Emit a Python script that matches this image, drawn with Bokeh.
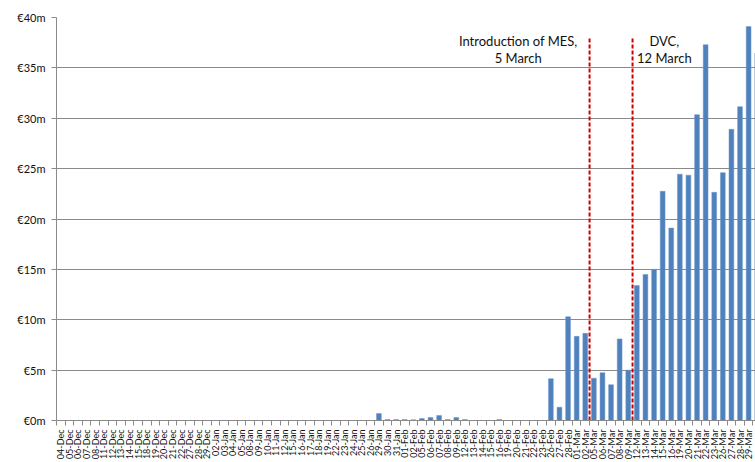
import numpy as np
from bokeh.plotting import figure
from bokeh.models import Range1d, FixedTicker, PrintfTickFormatter, Label
from bokeh.embed import file_html
from bokeh.resources import INLINE

# ---- data -------------------------------------------------------------
dec_days = ["04", "05", "06", "07", "08", "11", "12", "13", "14", "15",
            "18", "19", "20", "21", "22", "27", "28", "29"]
jan_days = ["02", "03", "04", "05", "08", "09", "10", "11", "12", "15", "16",
            "17", "18", "19", "22", "23", "24", "25", "26", "29", "30", "31"]
feb_days = ["01", "02", "05", "06", "07", "08", "09", "12", "13", "14",
            "15", "16", "19", "20", "21", "22", "23", "26", "27", "28"]
mar_days = ["01", "02", "05", "06", "07", "08", "09", "12", "13", "14", "15",
            "16", "19", "20", "21", "22", "23", "26", "27", "28", "29"]
apr_days = ["03"]

dates = ([d + "-Dec" for d in dec_days] + [d + "-Jan" for d in jan_days] +
         [d + "-Feb" for d in feb_days] + [d + "-Mar" for d in mar_days] +
         [d + "-Apr" for d in apr_days])

# daily value, EUR millions
dec_values = [0] * 18
jan_values = [0] * 19 + [0.7, 0.1, 0.1]
feb_values = [0.1, 0.07, 0.2, 0.3, 0.5, 0.1, 0.3, 0.1, 0, 0,
              0, 0.1, 0, 0, 0, 0, 0, 4.15, 1.32, 10.3]
mar_values = [8.35, 8.65, 4.2, 4.75, 3.55, 8.1, 5.0, 13.4, 14.5, 15.0, 22.75,
              19.1, 24.45, 24.35, 30.35, 37.3, 22.65, 24.6, 28.9, 31.15, 39.1]
apr_values = [36.45]
values_m = dec_values + jan_values + feb_values + mar_values + apr_values

y_ticks = [0, 5, 10, 15, 20, 25, 30, 35, 40]

events = ["05-Mar", "12-Mar"]
event_texts = [["Introduction of MES,", "5 March"], ["DVC,", "12 March"]]

# ---- figure -----------------------------------------------------------
FONT = "Lato"
GRID = "#8a8a8a"

x = np.arange(len(dates))
p = figure(width=755, height=462, output_backend="svg", toolbar_location=None,
           x_range=Range1d(-0.5, 80.8), y_range=Range1d(0, 40),
           min_border_left=56, min_border_top=17, min_border_right=0,
           min_border_bottom=0, background_fill_color="white",
           border_fill_color="white")
p.outline_line_color = None

p.vbar(x=x, top=values_m, width=0.56, fill_color="#4F81BD",
       line_color="#6E98CB", line_width=0.5)

# x axis: labels at category centres, tick marks between categories
xt = FixedTicker(ticks=list(x.astype(float)),
                 minor_ticks=list((np.arange(len(dates) + 1) - 0.5).astype(float)))
p.xaxis.ticker = xt
p.xaxis.major_label_overrides = {float(i): d for i, d in enumerate(dates)}
p.xaxis.major_label_orientation = np.pi / 2
p.xaxis.major_label_text_font = FONT
p.xaxis.major_label_text_font_size = "9px"
p.xaxis.major_label_text_color = "#111111"
p.xaxis.major_label_standoff = 3
p.xaxis.major_tick_line_color = None
p.xaxis.minor_tick_line_color = GRID
p.xaxis.minor_tick_in = 0
p.xaxis.minor_tick_out = 5
p.xaxis.axis_line_color = GRID
p.xgrid.grid_line_color = None

# y axis
p.yaxis.ticker = FixedTicker(ticks=y_ticks)
p.yaxis.formatter = PrintfTickFormatter(format="€%dm")
p.yaxis.major_label_text_font = FONT
p.yaxis.major_label_text_font_size = "11px"
p.yaxis.major_label_text_color = "#111111"
p.yaxis.major_tick_in = 0
p.yaxis.major_tick_out = 5
p.yaxis.major_tick_line_color = GRID
p.yaxis.minor_tick_line_color = None
p.yaxis.axis_line_color = GRID
p.yaxis.major_label_standoff = 6
p.ygrid.ticker = FixedTicker(ticks=y_ticks)
p.ygrid.grid_line_color = GRID
p.ygrid.grid_line_width = 1

# event lines (at the boundary before the event day)
ev_x = [dates.index(e) - 0.5 for e in events]
p.segment(x0=ev_x, y0=[0, 0], x1=ev_x, y1=[38.1, 38.1],
          line_color="#CC0000", line_width=2, line_dash="4 2")

text_offsets = [-8.3, 3.7]
for ex, off, lines in zip(ev_x, text_offsets, event_texts):
    for k, t in enumerate(lines):
        p.add_layout(Label(x=ex + off, y=37.65 - 1.65 * k, text=t,
                           text_align="center", text_baseline="alphabetic",
                           text_font=FONT, text_font_size="13px",
                           text_color="#111111"))

open("out.html", "w").write(file_html(p, INLINE))
